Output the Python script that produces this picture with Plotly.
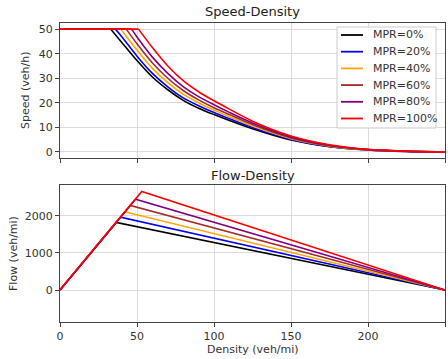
import plotly.graph_objects as go

# ---------------- data ----------------
labels = ["MPR=0%", "MPR=20%", "MPR=40%", "MPR=60%", "MPR=80%", "MPR=100%"]
colors = ["#000000", "#0000FF", "#FFA500", "#A52A2A", "#800080", "#FF0000"]

# Speed-Density: free-flow speed until departure density, then read-off points
free_speed = 50
speed_depart = [33, 36, 39.5, 43, 46.5, 51]
speed_grid = [40, 50, 60, 70, 80, 90, 100, 110, 125, 150, 175, 200, 225, 250]
speed_vals = [
    [44.7, 37.2, 30.5, 25.3, 21.0, 17.8, 15.2, 12.8, 9.4, 4.8, 2.1, 0.8, 0.2, 0],
    [47.0, 39.0, 32.0, 26.5, 22.0, 18.8, 16.0, 13.5, 9.9, 5.1, 2.2, 0.82, 0.2, 0],
    [49.6, 41.5, 34.0, 28.2, 23.5, 20.0, 17.0, 14.3, 10.5, 5.4, 2.35, 0.86, 0.22, 0],
    [None, 44.0, 36.2, 30.0, 25.0, 21.2, 18.0, 15.2, 11.1, 5.7, 2.5, 0.9, 0.24, 0],
    [None, 46.8, 38.6, 32.0, 26.6, 22.5, 19.2, 16.1, 11.8, 6.1, 2.7, 0.95, 0.26, 0],
    [None, None, 42.5, 35.0, 29.0, 24.5, 20.8, 17.4, 12.5, 6.5, 2.9, 1.0, 0.3, 0],
]

# Flow-Density: triangle vertices
jam_density = 250
crit_density = [36.5, 39.3, 42.1, 45.6, 49.0, 53.1]
capacity = [1823, 1965, 2107, 2279, 2448, 2654]

x_ticks = [0, 50, 100, 150, 200, 250]
speed_ticks = [0, 10, 20, 30, 40, 50]
flow_ticks = [0, 1000, 2000]

# ---------------- pixel helpers (plot area: x 60..445, y 23..322) ----------------
def px(x):
    return (x - 60) / 385


def py(y):
    return (322 - y) / 299


# ---------------- figure ----------------
fig = go.Figure()
for i in range(len(labels)):
    # free-flow part
    fig.add_trace(go.Scatter(x=[0, speed_depart[i]], y=[free_speed, free_speed],
                             mode="lines", name=labels[i],
                             line=dict(color=colors[i], width=1.6),
                             xaxis="x", yaxis="y", showlegend=False))
    # congested part
    xs = [speed_depart[i]]
    ys = [free_speed]
    for k, v in zip(speed_grid, speed_vals[i]):
        if v is not None and k > speed_depart[i]:
            xs.append(k)
            ys.append(v)
    fig.add_trace(go.Scatter(x=xs, y=ys, mode="lines", name=labels[i],
                             line=dict(color=colors[i], width=1.6,
                                       shape="spline", smoothing=0.8),
                             xaxis="x", yaxis="y", showlegend=False))
for i in range(len(labels)):
    fig.add_trace(go.Scatter(x=[0, crit_density[i], jam_density],
                             y=[0, capacity[i], 0], mode="lines", name=labels[i],
                             line=dict(color=colors[i], width=1.6),
                             showlegend=False, xaxis="x2", yaxis="y2"))

axis_common = dict(showline=True, linecolor="#444444", linewidth=1.2, mirror=True,
                   ticks="outside", ticklen=4, tickcolor="#444444",
                   showgrid=True, gridcolor="#dcdcdc", gridwidth=1,
                   zeroline=False, tickfont=dict(size=11, color="#333333"))

fig.update_layout(
    width=448, height=359,
    margin=dict(l=60, r=3, t=23, b=37),
    paper_bgcolor="white", plot_bgcolor="white",
    font=dict(family="DejaVu Sans", size=11, color="#333333"),
    xaxis=dict(domain=[0, 1], range=[0, 250], tickvals=x_ticks,
               showticklabels=False, anchor="y", **axis_common),
    yaxis=dict(domain=[py(158), 1], range=[-2.5, 52.5], tickvals=speed_ticks,
               anchor="x", **axis_common),
    xaxis2=dict(domain=[0, 1], range=[0, 250], tickvals=x_ticks,
                anchor="y2", **axis_common),
    yaxis2=dict(domain=[0, py(185)], range=[-860, 2830], tickvals=flow_ticks,
                anchor="x2", **axis_common),
    showlegend=False,
)

# ---- legend box drawn in the upper panel ----
fig.add_shape(type="rect", xref="paper", yref="paper",
              x0=px(337), x1=px(436), y0=py(128), y1=py(27),
              fillcolor="rgba(255,255,255,0.9)", line=dict(color="#cccccc", width=1),
              layer="above")
row_y = [35, 51.7, 68.4, 85.1, 101.8, 118.5]
for i in range(len(labels)):
    fig.add_shape(type="line", xref="paper", yref="paper",
                  x0=px(341), x1=px(363), y0=py(row_y[i]), y1=py(row_y[i]),
                  line=dict(color=colors[i], width=1.8), layer="above")
    fig.add_annotation(text=labels[i], xref="paper", yref="paper",
                       x=px(371), y=py(row_y[i]), showarrow=False,
                       xanchor="left", yanchor="middle",
                       font=dict(size=11, color="#333333"))

# ---- titles and axis labels ----
fig.add_annotation(text="Speed-Density", xref="paper", yref="paper",
                   x=0.5, y=py(11), showarrow=False, xanchor="center", yanchor="middle",
                   font=dict(size=13, color="#222222"))
fig.add_annotation(text="Flow-Density", xref="paper", yref="paper",
                   x=0.5, y=py(175), showarrow=False, xanchor="center", yanchor="middle",
                   font=dict(size=13, color="#222222"))
fig.add_annotation(text="Speed (veh/h)", xref="paper", yref="paper",
                   x=px(26), y=py(90), textangle=-90,
                   showarrow=False, xanchor="center", yanchor="middle",
                   font=dict(size=11, color="#333333"))
fig.add_annotation(text="Flow (veh/mi)", xref="paper", yref="paper",
                   x=px(13), y=py(254), textangle=-90,
                   showarrow=False, xanchor="center", yanchor="middle",
                   font=dict(size=11, color="#333333"))
fig.add_annotation(text="Density (veh/mi)", xref="paper", yref="paper",
                   x=0.5, y=py(349), showarrow=False,
                   xanchor="center", yanchor="middle",
                   font=dict(size=11, color="#333333"))

fig.write_html(
    "out.html",
    config={"displayModeBar": False},
    post_script="document.body.style.margin='0';document.body.style.overflow='hidden';",
)
